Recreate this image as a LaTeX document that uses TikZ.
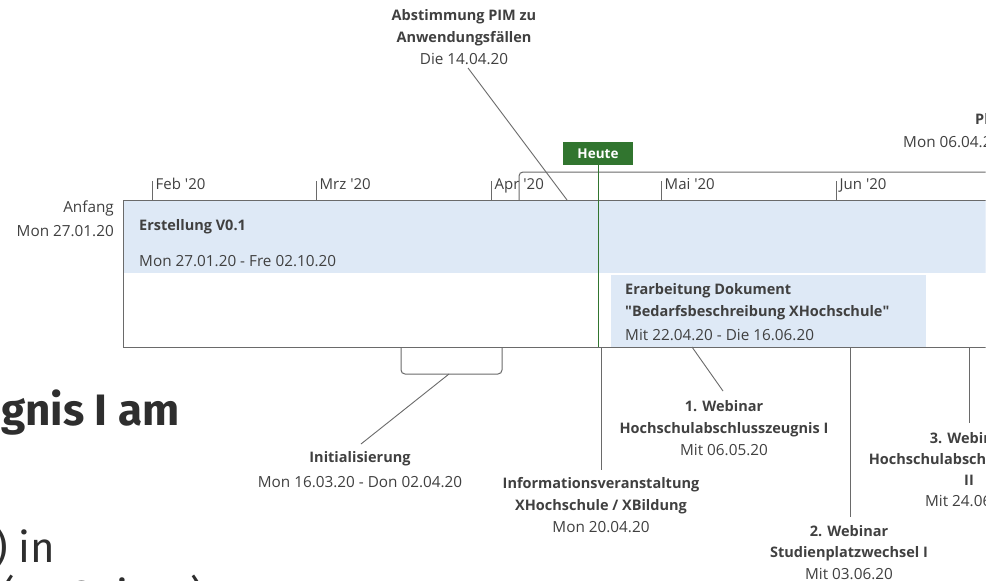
\documentclass[tikz,border=0pt]{standalone}
\usepackage{fontspec}
\setmainfont{Open Sans}
\newfontfamily\bgfont{Fira Sans}
\definecolor{txt}{HTML}{404040}
\definecolor{ln}{HTML}{6A6A6A}
\definecolor{band}{HTML}{DEE9F6}
\definecolor{heute}{HTML}{31752F}
\definecolor{bgtxt}{HTML}{2E2E2E}
\newcommand\blab[1]{{\fontsize{14.5}{22}\selectfont\bfseries #1}}
\begin{document}
\begin{tikzpicture}[x=1pt,y=-1pt,
  lbl/.style={inner sep=0pt, text=txt, font=\fontsize{15.3}{22}\selectfont, align=center},
  lblL/.style={lbl, align=left},
  month/.style={inner sep=0pt, text=txt, font=\fontsize{15}{18}\selectfont, anchor=base west},
  leader/.style={draw=ln, line width=0.9pt},
  frame/.style={draw=ln, line width=1pt},
  bg/.style={inner sep=0pt, text=bgtxt, anchor=base west}
]
\useasboundingbox (0,0) rectangle (996,581);
\fill[white] (0,0) rectangle (996,581);
\clip (0,0) rectangle (985.5,581);

% background slide text
\node[bg, font=\bgfont\fontsize{44}{44}\bfseries\selectfont] (bg1) at (1,425) {gnis I am};
\node[bg, font=\bgfont\fontsize{42}{42}\selectfont] (bg2) at (-6,562) {) in};
\node[bg, font=\bgfont\fontsize{42}{42}\selectfont] (bg3) at (1,610) {(50 Seiten)};

% main timeline frame
\fill[band] (123,200) rectangle (990,273);
\fill[band] (611,275) rectangle (926,347);
\draw[frame] (990,200) -- (123,200) -- (123,347) -- (990,347);

% month ticks
\foreach \x/\m in {152/Feb, 316/Mrz, 491/Apr, 661/Mai, 836/Jun}{
  \draw[ln, line width=0.9pt] (\x,181) -- (\x,200);
  \node[month] (m\m) at (\x+3.5,189.5) {\m\ \textquotesingle 20};
}

% phase bracket above (Pl...)
\draw[frame, rounded corners=4pt] (519,200) -- (519,172) -- (995,172);

% Heute marker
\draw[heute, line width=1pt] (598,165) -- (598,347);
\node[fill=heute, text=white, font=\fontsize{13.5}{15}\selectfont\bfseries,
      minimum width=70pt, minimum height=23pt, inner sep=0pt] (heute) at (598,153.5) {Heute};

% Anfang
\node[lbl, align=right, anchor=north east, font=\fontsize{15.3}{24}\selectfont] (anfang) at (114,200.5) {Anfang\\Mon 27.01.20};

% Erstellung
\node[lblL, anchor=north west] (erst) at (139,219) {\blab{Erstellung V0.1}};
\node[lblL, anchor=north west] (erstd) at (139,255.5) {Mon 27.01.20 - Fre 02.10.20};

% Erarbeitung
\node[lblL, anchor=north west] (erarb) at (625,283) {\blab{Erarbeitung Dokument}\\\blab{\textquotedbl Bedarfsbeschreibung XHochschule\textquotedbl}};
\node[lblL, anchor=north west] (erarbd) at (625,329.5) {Mit 22.04.20 - Die 16.06.20};

% Abstimmung
\coordinate (abstA) at (468,68);
\coordinate (abstB) at (567,200);
\draw[leader] (abstA) -- (abstB);
\node[lbl, anchor=north] (abst) at (464,9.5) {\blab{Abstimmung PIM zu}\\\blab{Anwendungsfällen}\\Die 14.04.20};

% Pl... phase label
\node[lblL, anchor=north west] (pl) at (975,113.5) {\blab{Pl}};
\node[lblL, anchor=north west] (pld) at (903,136.5) {Mon 06.04.20};

% Initialisierung
\draw[frame, rounded corners=4pt] (401,347) -- (401,374) -- (502,374) -- (502,347);
\coordinate (initA) at (449,374);
\coordinate (initB) at (361,444);
\draw[leader] (initA) -- (initB);
\node[lbl, anchor=north, font=\fontsize{15.3}{25}\selectfont] (init) at (360,451) {\blab{Initialisierung}\\Mon 16.03.20 - Don 02.04.20};

% Informationsveranstaltung
\coordinate (infoA) at (601,347);
\coordinate (infoB) at (601,470);
\draw[leader] (infoA) -- (infoB);
\node[lbl, anchor=north] (info) at (601,477) {\blab{Informationsveranstaltung}\\\blab{XHochschule / XBildung}\\Mon 20.04.20};

% 1. Webinar
\coordinate (w1A) at (692,347);
\coordinate (w1B) at (723,391);
\draw[leader] (w1A) -- (w1B);
\node[lbl, anchor=north] (w1) at (724,400) {\blab{1. Webinar}\\\blab{Hochschulabschlusszeugnis I}\\Mit 06.05.20};

% 2. Webinar
\coordinate (w2A) at (850,347);
\coordinate (w2B) at (850,517);
\draw[leader] (w2A) -- (w2B);
\node[lbl, anchor=north, font=\fontsize{15.3}{21.5}\selectfont] (w2) at (849,525) {\blab{2. Webinar}\\\blab{Studienplatzwechsel I}\\Mit 03.06.20};

% 3. Webinar
\coordinate (w3A) at (969,347);
\coordinate (w3B) at (969,423);
\draw[leader] (w3A) -- (w3B);
\node[lbl, anchor=north, font=\fontsize{15.3}{21}\selectfont] (w3) at (969,432) {\blab{3. Webinar}\\\blab{Hochschulabschlusszeugnis}\\\blab{II}\\Mit 24.06.20};
\end{tikzpicture}
\end{document}
